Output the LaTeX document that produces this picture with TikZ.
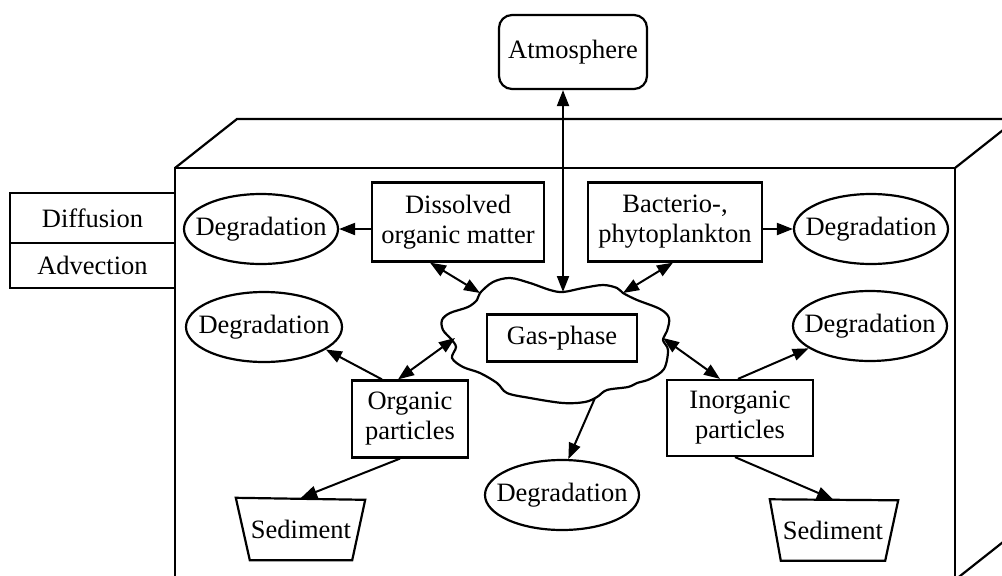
\documentclass[tikz,border=0pt]{standalone}
\usepackage{fontspec}
\setmainfont{Liberation Serif}
\usetikzlibrary{arrows.meta,shapes.geometric,calc}
\begin{document}
\begin{tikzpicture}[x=1pt,y=-1pt,
  font=\fontsize{26.5}{30}\selectfont,
  every node/.style={inner sep=0pt, align=center},
  boxn/.style={draw, line width=2.2pt, rectangle},
  elln/.style={draw, line width=2.2pt, ellipse, inner xsep=-12pt, minimum width=154pt, minimum height=70pt},
  plainn/.style={rectangle, draw=none},
  arr/.style={line width=2pt, -{Triangle[length=16pt,width=12pt]}},
  darr/.style={line width=2pt, {Triangle[length=16pt,width=12pt]}-{Triangle[length=16pt,width=12pt]}}
]
\useasboundingbox (0,0) rectangle (1002,576);
\fill[white] (0,0) rectangle (1002,576);

% the water box
\begin{scope}
\clip (0,0) rectangle (1002,576);
\draw[line width=2.2pt, line join=miter] (175,590) -- (175,168) -- (955,168) -- (955,590);
\draw[line width=2.2pt] (175,168) -- (237,119) -- (1040,119);
\draw[line width=2.2pt] (955,168) -- (1017,119);
\draw[line width=2.2pt] (955,580) -- (1017,531);
\end{scope}

% side boxes
\node[boxn, minimum width=165pt, minimum height=50pt] (diff) at (92.5,218) {Diffusion};
\node[boxn, minimum width=165pt, minimum height=45pt] (adv) at (92.5,265.5) {Advection};

% atmosphere
\node[boxn, rounded corners=13pt, minimum width=148pt, minimum height=74pt] (atm) at (573,52) {Atmosphere};

% upper boxes
\node[boxn, minimum width=172pt, minimum height=79pt] (dom) at (458,222) {Dissolved\\organic matter};
\node[boxn, minimum width=174pt, minimum height=79pt] (bac) at (675,222) {Bacterio-,\\phytoplankton};

% particles
\node[boxn, minimum width=116pt, minimum height=77pt] (org) at (410,419) {Organic\\particles};
\node[boxn, minimum width=146pt, minimum height=76pt] (inorg) at (740,418) {Inorganic\\particles};

% degradations
\node[elln] (deg1) at (261,229) {Degradation};
\node[elln] (deg2) at (871,229) {Degradation};
\node[elln, minimum width=156pt] (deg3) at (264,327) {Degradation};
\node[elln] (deg4) at (870,326) {Degradation};
\node[elln] (deg5) at (562,495) {Degradation};

% cloud
\draw[line width=2.2pt] plot[smooth cycle, tension=0.55] coordinates {
 (480,293) (493,282) (510,278) (530,283) (550,290) (563,292) (583,288) (603,285)
 (617,288) (623,293) (637,300) (660,309) (669,318) (667,331) (663,340) (668,350)
 (664,369) (650,379) (637,383) (628,387) (607,390) (597,397) (585,402) (563,403)
 (530,398) (507,393) (497,383) (480,373) (463,367) (452,358) (456,347) (451,339)
 (443,330) (442,320) (450,313) (468,307) (477,300)};
\node[boxn, minimum width=150pt, minimum height=47pt] (gas) at (562,338) {Gas-phase};
\coordinate (ctop) at (563,292);
\coordinate (ctl) at (480,293);
\coordinate (ctr) at (623,293);
\coordinate (cl) at (455,338);
\coordinate (cr) at (663,338);
\coordinate (cb) at (595,398);

% sediments
\node[plainn, minimum width=102pt, minimum height=62pt] (sed1) at (301,529) {Sediment};
\draw[line width=2.2pt, line join=miter] ($(sed1.north west)+(-14,0)$) -- ($(sed1.north east)+(13,2)$) -- (sed1.south east) -- (sed1.south west) -- cycle;
\node[plainn, minimum width=104pt, minimum height=61pt] (sed2) at (833,530) {Sediment};
\draw[line width=2.2pt, line join=miter] ($(sed2.north west)+(-11,0)$) -- ($(sed2.north east)+(13,1)$) -- (sed2.south east) -- (sed2.south west) -- cycle;

% connectors
\draw[darr] (atm.south -| ctop) -- (ctop);
\draw[arr] (dom.west |- deg1.east) -- (deg1.east);
\draw[arr] (bac.east |- deg2.west) -- (deg2.west);
\draw[darr] ($(dom.south)+(-28,0)$) -- (ctl);
\draw[darr] ($(bac.south)+(-2,0)$) -- (ctr);
\draw[arr] ($(org.north)+(-28,0)$) -- (deg3.-20);
\draw[darr] ($(org.north)+(-12,0)$) -- (cl);
\draw[darr] ($(inorg.north)+(-20,0)$) -- (cr);
\draw[arr] ($(inorg.north)+(-2,0)$) -- (deg4.200);
\draw[arr] (cb) -- (deg5.80);
\draw[arr] ($(org.south)+(-10,0)$) -- (sed1.north);
\draw[arr] ($(inorg.south)+(-5,0)$) -- (sed2.north);
\end{tikzpicture}
\end{document}
